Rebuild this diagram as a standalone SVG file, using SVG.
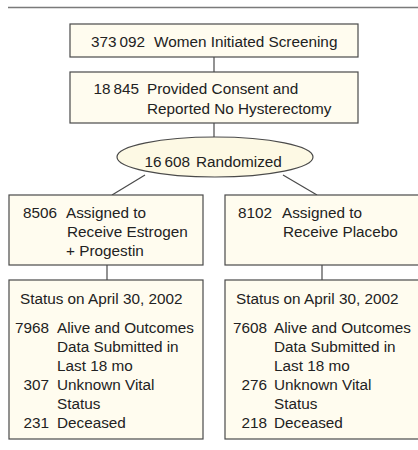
<svg xmlns="http://www.w3.org/2000/svg" width="418" height="450" viewBox="0 0 418 450">
<style>
.box{fill:#fffcef;stroke:#4a4a4a;stroke-width:1.2}
.ell{fill:#fdf9e4;stroke:#4a4a4a;stroke-width:1.2}
.ln{stroke:#4a4a4a;stroke-width:1.2;fill:none}
text{font-family:"Liberation Sans",Arial,sans-serif;font-size:15.3px;fill:#222}
.n{text-anchor:end}
</style>
<rect x="0" y="0" width="418" height="450" fill="#ffffff"/>
<line x1="8" y1="7.5" x2="418" y2="7.5" stroke="#7a7a7a" stroke-width="1.5"/>
<g id="connectors">
<line class="ln" x1="214" y1="57" x2="214" y2="72"/>
<line class="ln" x1="214" y1="123" x2="214" y2="137"/>
<line class="ln" x1="145" y1="175" x2="112" y2="195"/>
<line class="ln" x1="283" y1="175" x2="317" y2="195"/>
<line class="ln" x1="107" y1="265" x2="107" y2="280"/>
<line class="ln" x1="322" y1="265" x2="322" y2="280"/>
</g>
<g id="screening">
<rect class="box" x="70" y="24" width="288" height="33"/>
<text class="n" x="145" y="47">373&#8201;092</text>
<text x="154" y="47">Women Initiated Screening</text>
</g>
<g id="consent">
<rect class="box" x="70" y="72" width="288" height="51"/>
<text class="n" x="139" y="94">18&#8201;845</text>
<text x="147" y="94">Provided Consent and</text>
<text x="147" y="114">Reported No Hysterectomy</text>
</g>
<g id="randomized">
<ellipse class="ell" cx="215" cy="157" rx="98" ry="20"/>
<text class="n" x="190" y="167">16&#8201;608</text>
<text x="196" y="167">Randomized</text>
</g>
<g id="estrogen">
<rect class="box" x="9" y="195" width="194" height="70"/>
<text class="n" x="57" y="218">8506</text>
<text x="66" y="218">Assigned to</text>
<text x="67" y="237">Receive Estrogen</text>
<text x="66" y="256">+ Progestin</text>
</g>
<g id="placebo">
<rect class="box" x="225" y="195" width="200" height="70"/>
<text class="n" x="272" y="218">8102</text>
<text x="282" y="218">Assigned to</text>
<text x="283" y="237">Receive Placebo</text>
</g>
<g id="status-estrogen">
<rect class="box" x="9" y="280" width="194" height="159"/>
<text x="20" y="304">Status on April 30, 2002</text>
<text class="n" x="49" y="333">7968</text>
<text x="57" y="333">Alive and Outcomes</text>
<text x="57" y="352">Data Submitted in</text>
<text x="57" y="371">Last 18 mo</text>
<text class="n" x="49" y="390">307</text>
<text x="57" y="390">Unknown Vital</text>
<text x="57" y="409">Status</text>
<text class="n" x="49" y="428">231</text>
<text x="57" y="428">Deceased</text>
</g>
<g id="status-placebo">
<rect class="box" x="225" y="280" width="200" height="159"/>
<text x="236" y="304">Status on April 30, 2002</text>
<text class="n" x="267" y="333">7608</text>
<text x="274" y="333">Alive and Outcomes</text>
<text x="274" y="352">Data Submitted in</text>
<text x="274" y="371">Last 18 mo</text>
<text class="n" x="267" y="390">276</text>
<text x="274" y="390">Unknown Vital</text>
<text x="274" y="409">Status</text>
<text class="n" x="267" y="428">218</text>
<text x="274" y="428">Deceased</text>
</g>
</svg>
